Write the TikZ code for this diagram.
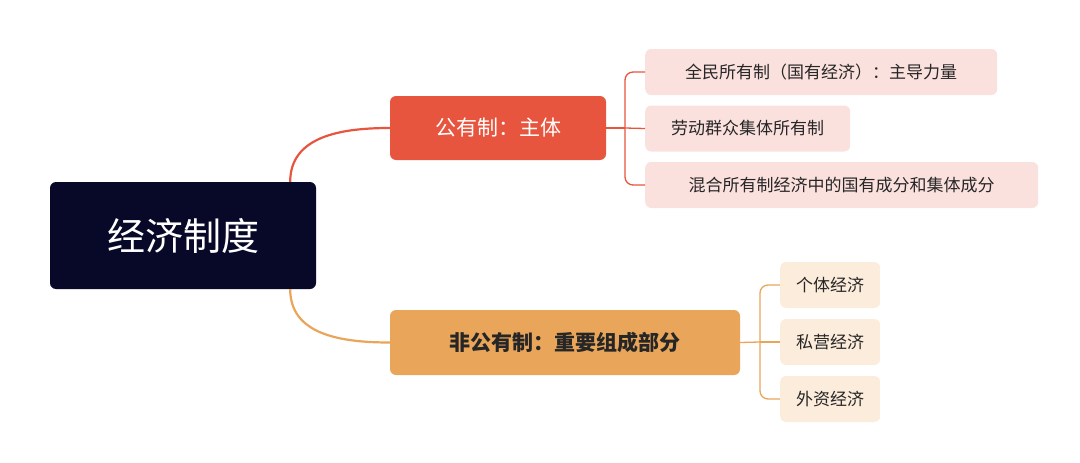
\documentclass[tikz,border=0pt]{standalone}
\usepackage{fontspec}
\setmainfont{Noto Sans CJK SC}
\begin{document}
\begin{tikzpicture}[x=1pt,y=-1pt,
 box/.style={rounded corners=6pt,inner sep=0,minimum height=#1},
 redleaf/.style={box=46,fill=red!12!white,text=black!85,font=\fontsize{17}{20}\selectfont,anchor=west,inner xsep=9pt},
 orleaf/.style={box=46,fill=orange!14!white,text=black!85,font=\fontsize{17}{20}\selectfont,anchor=west,inner xsep=9pt},
 redln/.style={draw={rgb,255:red,232;green,85;blue,63},line width=2.2pt},
 orln/.style={draw={rgb,255:red,233;green,165;blue,90},line width=2.2pt},
 thin/.style={line width=1.3pt,rounded corners=8pt}]
\useasboundingbox (0,0) rectangle (1080,463);
\definecolor{navy}{RGB}{8,8,40}
\definecolor{rd}{RGB}{232,85,63}
\definecolor{og}{RGB}{233,165,90}
\definecolor{pk}{RGB}{251,225,222}
\definecolor{cr}{RGB}{252,236,220}
\node[box=107,minimum width=266,fill=navy,text=white,font=\fontsize{38}{44}\selectfont] (root) at (183,235.5) {经济制度};
\node[box=64,minimum width=216,fill=rd,text=white,font=\fontsize{21}{26}\selectfont] (A) at (498,128) {公有制：主体};
\node[box=65,minimum width=350,fill=og,text=black!85,font=\bfseries\fontsize{21}{26}\selectfont] (B) at (565,342.5) {非公有制：重要组成部分};
\node[redleaf,fill=pk,minimum width=352] (a1) at (645,72) {全民所有制（国有经济）：主导力量};
\node[redleaf,fill=pk,minimum width=205] (a2) at (645,128.5) {劳动群众集体所有制};
\node[redleaf,fill=pk,minimum width=393] (a3) at (645,185) {混合所有制经济中的国有成分和集体成分};
\node[orleaf,fill=cr,minimum width=100] (b1) at (780,285) {个体经济};
\node[orleaf,fill=cr,minimum width=100] (b2) at (780,342) {私营经济};
\node[orleaf,fill=cr,minimum width=100] (b3) at (780,399) {外资经济};
\draw[redln] ([xshift=-26pt]root.north east) .. controls +(0,-45) and +(-50,0) .. (A.west);
\draw[orln] ([xshift=-26pt]root.south east) .. controls +(0,45) and +(-50,0) .. (B.west);
\draw[rd,thin] (A.east) -- (625,128);
\draw[rd,thin] (a1.west) -| (625,128) |- (a3.west);
\draw[rd,thin] (625,128) -- (a2.west);
\draw[og,thin] (B.east) -- (760,342);
\draw[og,thin] (b1.west) -| (760,342) |- (b3.west);
\draw[og,thin] (760,342) -- (b2.west);
\end{tikzpicture}
\end{document}
